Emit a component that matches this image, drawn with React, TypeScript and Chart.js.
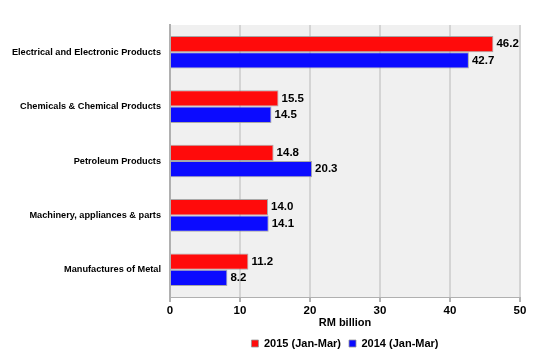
import React, { useEffect, useRef } from "react";
import { Chart, registerables } from "chart.js";

Chart.register(...registerables);

const categories = [
  "Electrical and Electronic Products",
  "Chemicals & Chemical Products",
  "Petroleum Products",
  "Machinery, appliances & parts",
  "Manufactures of Metal",
];
const series2015 = [46.2, 15.5, 14.8, 14.0, 11.2];
const series2014 = [42.7, 14.5, 20.3, 14.1, 8.2];
const xTicks = [0, 10, 20, 30, 40, 50];

const FONT = "'Liberation Sans', Arial, sans-serif";

const bgPlugin = {
  id: "plotBg",
  beforeDraw(chart: any) {
    const { ctx, chartArea } = chart;
    ctx.save();
    ctx.fillStyle = "#f0f0f0";
    ctx.fillRect(chartArea.left, chartArea.top, chartArea.right - chartArea.left, chartArea.bottom - chartArea.top);
    ctx.restore();
  },
};

const labelPlugin = {
  id: "valueLabels",
  afterDatasetsDraw(chart: any) {
    const { ctx } = chart;
    ctx.save();
    ctx.font = `bold 11.5px ${FONT}`;
    ctx.fillStyle = "#000";
    ctx.textAlign = "left";
    ctx.textBaseline = "middle";
    chart.data.datasets.forEach((ds: any, i: number) => {
      const meta = chart.getDatasetMeta(i);
      meta.data.forEach((bar: any, j: number) => {
        const v = ds.data[j] as number;
        ctx.fillText(v.toFixed(1), bar.x + 3, bar.y);
      });
    });
    ctx.restore();
  },
};

export default function App() {
  const ref = useRef<HTMLCanvasElement>(null);
  useEffect(() => {
    document.body.style.margin = "0";
    const chart = new Chart(ref.current!, {
      type: "bar",
      data: {
        labels: categories,
        datasets: [
          {
            label: "2015 (Jan-Mar)",
            data: series2015,
            backgroundColor: "#ff0b0b",
            borderColor: "rgba(150,150,150,0.8)",
            borderWidth: 1,
            categoryPercentage: 0.6,
            barPercentage: 1,
          },
          {
            label: "2014 (Jan-Mar)",
            data: series2014,
            backgroundColor: "#0b0bff",
            borderColor: "rgba(150,150,150,0.8)",
            borderWidth: 1,
            categoryPercentage: 0.6,
            barPercentage: 1,
          },
        ],
      },
      options: {
        indexAxis: "y",
        animation: false,
        responsive: false,
        maintainAspectRatio: false,
        layout: { padding: { top: 25, right: 30, left: 0, bottom: -9 } },
        plugins: {
          legend: {
            position: "bottom",
            fullSize: false,
            labels: {
              boxWidth: 7,
              boxHeight: 7,
              padding: 8,
              color: "#000",
              font: { family: FONT, size: 11, weight: "bold" },
            },
          },
          tooltip: { enabled: false },
        },
        scales: {
          x: {
            min: 0,
            max: 50,
            afterBuildTicks: (s: any) => {
              s.ticks = xTicks.map((v) => ({ value: v }));
            },
            afterFit: (s: any) => {
              s.height = 33;
            },
            grid: { color: "#d4d4d4", lineWidth: 2, tickLength: 5, tickColor: "#b0b0b0" },
            border: { display: true, color: "#b0b0b0", width: 1 },
            ticks: { color: "#000", padding: 2, font: { family: FONT, size: 11.5, weight: "bold" } },
            title: {
              display: true,
              text: "RM billion",
              color: "#000",
              padding: { top: 2, bottom: 0 },
              font: { family: FONT, size: 11, weight: "bold" },
            },
          },
          y: {
            afterFit: (s: any) => {
              s.width = 170;
            },
            grid: { display: false },
            border: { display: true, color: "#b0b0b0", width: 2 },
            ticks: { color: "#000", padding: 1, font: { family: FONT, size: 9.2, weight: "bold" } },
          },
        },
      },
      plugins: [bgPlugin, labelPlugin],
    });
    return () => chart.destroy();
  }, []);
  return <canvas ref={ref} width={550} height={350} style={{ display: "block" }} />;
}
